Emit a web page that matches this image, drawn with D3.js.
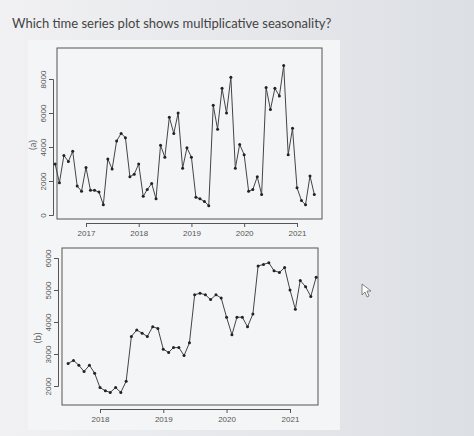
<!DOCTYPE html>
<html><head><meta charset="utf-8">
<script src="https://cdn.jsdelivr.net/npm/d3@7"></script>
<style>body{margin:0;background:#e4e6ea;font-family:Lato,sans-serif}</style>
</head><body>
<script>
// series (a): monthly, Jun 2016 - May 2021
var startA = new Date(2016, 5, 1);
var valuesA = [3000,1900,3500,3150,3750,1700,1400,
  2800,1450,1450,1350,600,3300,2700,4350,4800,4550,2250,2400,
  3000,1100,1500,1850,950,4100,3400,5750,4800,6000,2750,3950,
  3400,1050,950,800,550,6450,5050,7450,6000,8100,2750,4150,
  3550,1400,1500,2250,1200,7500,6200,7450,7000,8800,3550,5100,
  1600,850,600,2300,1200];
// series (b): monthly, Jul 2017 - Jun 2021
var startB = new Date(2017, 6, 1);
var valuesB = [2700,2800,2650,2450,2650,2400,1950,1850,1800,1950,1800,2150,
  3550,3750,3650,3550,3850,3800,3150,3050,3200,3200,2950,3350,
  4850,4900,4850,4700,4850,4750,4150,3600,4150,4150,3850,4250,
  5750,5800,5850,5600,5550,5700,5000,4400,5300,5100,4800,5400];
var ticksA = [0, 2000, 4000, 6000, 8000];
var ticksB = [2000, 3000, 4000, 5000, 6000];
var yearsA = [2017, 2018, 2019, 2020, 2021];
var yearsB = [2018, 2019, 2020, 2021];

var w = 474, h = 436;
var svg = d3.select("body").append("svg").attr("width", w).attr("height", h);
var grad = svg.append("defs").append("linearGradient").attr("id", "bg");
grad.append("stop").attr("offset", "0").attr("stop-color", "#f1f1f3");
grad.append("stop").attr("offset", "1").attr("stop-color", "#dcdfe4");
svg.append("rect").attr("width", w).attr("height", h).attr("fill", "url(#bg)");
svg.append("rect").attr("x", 28).attr("y", 40).attr("width", 312).attr("height", 390)
  .attr("fill", "#f4f5f7");

svg.append("text").attr("x", 12).attr("y", 28).attr("font-size", 13).attr("fill", "#444")
  .text("Which time series plot shows multiplicative seasonality?");

function drawPlot(cfg) {
  var g = svg.append("g");
  var data = cfg.values.map(function (v, i) {
    return { date: d3.timeMonth.offset(cfg.start, i), value: v };
  });
  var x = d3.scaleTime().domain(cfg.xdom).range(cfg.xr);
  var y = d3.scaleLinear().domain(cfg.ydom).range(cfg.yr);
  g.append("rect").attr("x", cfg.box[0]).attr("y", cfg.box[1])
    .attr("width", cfg.box[2] - cfg.box[0]).attr("height", cfg.box[3] - cfg.box[1])
    .attr("fill", "none").attr("stroke", "#555").attr("stroke-width", 1);
  var xAxis = d3.axisBottom(x).tickValues(cfg.years.map(function (yr) { return new Date(yr, 0, 1); }))
    .tickFormat(d3.timeFormat("%Y")).tickSize(4);
  var gx = g.append("g").attr("transform", "translate(0," + (cfg.box[3] + 4) + ")").call(xAxis);
  var yAxis = d3.axisLeft(y).tickValues(cfg.yticks).tickFormat(d3.format("d")).tickSize(4);
  var gy = g.append("g").attr("transform", "translate(" + (cfg.box[0] - 4) + ",0)").call(yAxis);
  gy.selectAll("text").attr("transform", "rotate(-90)").attr("x", 0).attr("dy", 0).attr("y", -7)
    .style("text-anchor", "middle");
  [gx, gy].forEach(function (a) {
    a.selectAll("path,line").attr("stroke", "#555");
    a.selectAll("text").attr("fill", "#555").attr("font-size", 8).attr("font-family", "Liberation Sans");
  });
  g.append("text").attr("transform", "translate(" + cfg.lab[0] + "," + cfg.lab[1] + ") rotate(-90)")
    .attr("text-anchor", "middle").attr("font-size", 10)
    .attr("fill", "#666").text(cfg.label);
  var line = d3.line().x(function (d) { return x(d.date); }).y(function (d) { return y(d.value); });
  g.append("path").datum(data).attr("d", line).attr("fill", "none").attr("stroke", "#444").attr("stroke-width", 1);
  g.selectAll("circle").data(data).enter().append("circle")
    .attr("cx", function (d) { return x(d.date); }).attr("cy", function (d) { return y(d.value); })
    .attr("r", 1.5).attr("fill", "#222");
}

drawPlot({ values: valuesA, start: startA, label: "(a)", lab: [36, 145],
  xdom: [new Date(2017, 0, 1), new Date(2021, 0, 1)], xr: [86, 297],
  ydom: [0, 8000], yr: [215, 79], yticks: ticksA, years: yearsA, box: [57, 48, 322, 219] });
drawPlot({ values: valuesB, start: startB, label: "(b)", lab: [41, 338],
  xdom: [new Date(2018, 0, 1), new Date(2021, 0, 1)], xr: [100, 290],
  ydom: [2000, 6000], yr: [386, 258], yticks: ticksB, years: yearsB, box: [62, 248, 318, 405] });

// mouse cursor
svg.append("path").attr("d", "M362,284 l0,11 l3,-3 l2,5 l2,-1 l-2,-5 l4,0 z")
  .attr("fill", "#fff").attr("stroke", "#666").attr("stroke-width", 0.8);
</script>
</body></html>
